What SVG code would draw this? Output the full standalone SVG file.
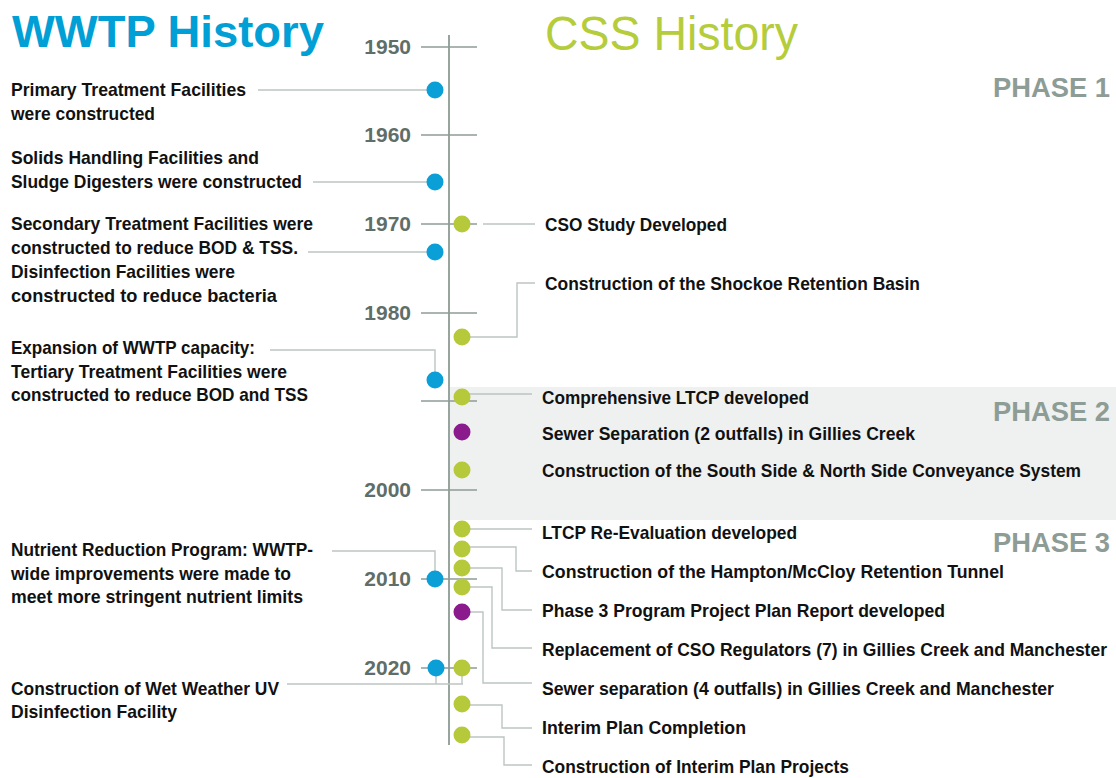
<svg xmlns="http://www.w3.org/2000/svg" width="1116" height="778" viewBox="0 0 1116 778">
  <style>
    .title { font-family: "Liberation Sans", Arial, sans-serif; }
    .year { font-family: "Liberation Sans", Arial, sans-serif; font-size: 21px; font-weight: bold; fill: #5f6e68; text-anchor: end; }
    .phase { font-family: "Liberation Sans", Arial, sans-serif; font-size: 28px; font-weight: bold; fill: #8e9c96; text-anchor: end; }
    .lbl { font-family: "Liberation Sans", Arial, sans-serif; font-size: 19px; font-weight: bold; fill: #111; }
    .tick { stroke: #8f9c96; stroke-width: 1.3; fill: none; }
    .con { stroke: #bcc5c1; stroke-width: 1.4; fill: none; }
    .blue { fill: #0a9fd6; }
    .green { fill: #b6c93a; }
    .purple { fill: #8b1a8c; }
  </style>

  <!-- phase 2 band -->
  <rect x="450" y="387" width="666" height="133" fill="#eff1f0"/>

  <!-- headings -->
  <text class="title" x="12" y="47" font-size="45" fill="#00a0d6" font-weight="bold" textLength="312" lengthAdjust="spacingAndGlyphs">WWTP History</text>
  <text class="title" x="545" y="50" font-size="49" fill="#b5cc3b" textLength="253" lengthAdjust="spacingAndGlyphs">CSS History</text>

  <text class="phase" x="1110" y="97" textLength="117" lengthAdjust="spacingAndGlyphs">PHASE 1</text>
  <text class="phase" x="1110" y="421" textLength="117" lengthAdjust="spacingAndGlyphs">PHASE 2</text>
  <text class="phase" x="1110" y="552" textLength="117" lengthAdjust="spacingAndGlyphs">PHASE 3</text>

  <!-- timeline axis and decade ticks -->
  <g id="axis">
    <line x1="449" y1="35" x2="449" y2="745" stroke="#97a59e" stroke-width="2"/>
    <path class="tick" d="M421,47H477 M421,135H477 M421,224H477 M421,313H477 M421,401H477 M421,490H477 M421,579H477 M421,668H477"/>
    <text class="year" x="411" y="54">1950</text>
    <text class="year" x="411" y="142">1960</text>
    <text class="year" x="411" y="231">1970</text>
    <text class="year" x="411" y="320">1980</text>
    <text class="year" x="411" y="497">2000</text>
    <text class="year" x="411" y="586">2010</text>
    <text class="year" x="411" y="675">2020</text>
  </g>

  <!-- leader lines -->
  <g id="connectors">
    <path class="con" d="M258,90H427"/>
    <path class="con" d="M313,182H427"/>
    <path class="con" d="M308,252H427"/>
    <path class="con" d="M270,350H435V372"/>
    <path class="con" d="M332,551H435V571"/>
    <path class="con" d="M287,684H463 M436,668V684 M462,668V684"/>
    <path class="con" d="M483,224H535"/>
    <path class="con" d="M462,337H517V283H535"/>
    <path class="con" d="M462,394H532"/>
    <path class="con" d="M462,529H532"/>
    <path class="con" d="M462,547H516V571H532"/>
    <path class="con" d="M462,568H502V610H532"/>
    <path class="con" d="M462,587H492V648H532"/>
    <path class="con" d="M462,612H483V683H532"/>
    <path class="con" d="M462,705H502V728H532"/>
    <path class="con" d="M462,737H504V765H532"/>
  </g>

  <!-- WWTP events -->
  <g id="w1950s"><circle class="blue" cx="435" cy="90" r="8.5"/>
    <text class="lbl" x="11" y="96" textLength="235" lengthAdjust="spacingAndGlyphs">Primary Treatment Facilities</text>
    <text class="lbl" x="11" y="120" textLength="144" lengthAdjust="spacingAndGlyphs">were constructed</text></g>
  <g id="w1960s"><circle class="blue" cx="435" cy="182" r="8.5"/>
    <text class="lbl" x="11" y="164" textLength="248" lengthAdjust="spacingAndGlyphs">Solids Handling Facilities and</text>
    <text class="lbl" x="11" y="188" textLength="291" lengthAdjust="spacingAndGlyphs">Sludge Digesters were constructed</text></g>
  <g id="w1970s"><circle class="blue" cx="435" cy="252" r="8.5"/>
    <text class="lbl" x="11" y="230" textLength="302" lengthAdjust="spacingAndGlyphs">Secondary Treatment Facilities were</text>
    <text class="lbl" x="11" y="254" textLength="287" lengthAdjust="spacingAndGlyphs">constructed to reduce BOD &amp; TSS.</text>
    <text class="lbl" x="11" y="278" textLength="224" lengthAdjust="spacingAndGlyphs">Disinfection Facilities were</text>
    <text class="lbl" x="11" y="302" textLength="266" lengthAdjust="spacingAndGlyphs">constructed to reduce bacteria</text></g>
  <g id="w1980s"><circle class="blue" cx="435" cy="380" r="8.5"/>
    <text class="lbl" x="11" y="354" textLength="244" lengthAdjust="spacingAndGlyphs">Expansion of WWTP capacity:</text>
    <text class="lbl" x="11" y="378" textLength="276" lengthAdjust="spacingAndGlyphs">Tertiary Treatment Facilities were</text>
    <text class="lbl" x="11" y="401" textLength="297" lengthAdjust="spacingAndGlyphs">constructed to reduce BOD and TSS</text></g>
  <g id="w2010s"><circle class="blue" cx="435" cy="579" r="8.5"/>
    <text class="lbl" x="11" y="556" textLength="302" lengthAdjust="spacingAndGlyphs">Nutrient Reduction Program: WWTP-</text>
    <text class="lbl" x="11" y="580" textLength="280" lengthAdjust="spacingAndGlyphs">wide improvements were made to</text>
    <text class="lbl" x="11" y="603" textLength="292" lengthAdjust="spacingAndGlyphs">meet more stringent nutrient limits</text></g>
  <g id="w2020s"><circle class="blue" cx="436" cy="668" r="8.5"/>
    <text class="lbl" x="11" y="695" textLength="268" lengthAdjust="spacingAndGlyphs">Construction of Wet Weather UV</text>
    <text class="lbl" x="11" y="718" textLength="166" lengthAdjust="spacingAndGlyphs">Disinfection Facility</text></g>

  <!-- CSS events -->
  <g id="c-cso-study"><circle class="green" cx="462" cy="224" r="8.5"/>
    <text class="lbl" x="545" y="231" textLength="182" lengthAdjust="spacingAndGlyphs">CSO Study Developed</text></g>
  <g id="c-shockoe"><circle class="green" cx="462" cy="337" r="8.5"/>
    <text class="lbl" x="545" y="290" textLength="375" lengthAdjust="spacingAndGlyphs">Construction of the Shockoe Retention Basin</text></g>
  <g id="c-ltcp"><circle class="green" cx="462" cy="397" r="8.5"/>
    <text class="lbl" x="542" y="404" textLength="267" lengthAdjust="spacingAndGlyphs">Comprehensive LTCP developed</text></g>
  <g id="c-sep2"><circle class="purple" cx="462" cy="432" r="8.5"/>
    <text class="lbl" x="542" y="440" textLength="373" lengthAdjust="spacingAndGlyphs">Sewer Separation (2 outfalls) in Gillies Creek</text></g>
  <g id="c-conveyance"><circle class="green" cx="462" cy="470" r="8.5"/>
    <text class="lbl" x="542" y="477" textLength="539" lengthAdjust="spacingAndGlyphs">Construction of the South Side &amp; North Side Conveyance System</text></g>
  <g id="c-reeval"><circle class="green" cx="462" cy="529" r="8.5"/>
    <text class="lbl" x="542" y="539" textLength="255" lengthAdjust="spacingAndGlyphs">LTCP Re-Evaluation developed</text></g>
  <g id="c-hampton"><circle class="green" cx="462" cy="549" r="8.5"/>
    <text class="lbl" x="542" y="578" textLength="462" lengthAdjust="spacingAndGlyphs">Construction of the Hampton/McCloy Retention Tunnel</text></g>
  <g id="c-ppp"><circle class="green" cx="462" cy="568" r="8.5"/>
    <text class="lbl" x="542" y="617" textLength="403" lengthAdjust="spacingAndGlyphs">Phase 3 Program Project Plan Report developed</text></g>
  <g id="c-regulators"><circle class="green" cx="462" cy="587" r="8.5"/>
    <text class="lbl" x="542" y="656" textLength="565" lengthAdjust="spacingAndGlyphs">Replacement of CSO Regulators (7) in Gillies Creek and Manchester</text></g>
  <g id="c-sep4"><circle class="purple" cx="462" cy="612" r="8.5"/>
    <text class="lbl" x="542" y="695" textLength="512" lengthAdjust="spacingAndGlyphs">Sewer separation (4 outfalls) in Gillies Creek and Manchester</text></g>
  <g id="c-2020"><circle class="green" cx="462" cy="668" r="8.5"/></g>
  <g id="c-interim"><circle class="green" cx="462" cy="704" r="8.5"/>
    <text class="lbl" x="542" y="734" textLength="204" lengthAdjust="spacingAndGlyphs">Interim Plan Completion</text></g>
  <g id="c-interim-projects"><circle class="green" cx="462" cy="735" r="8.5"/>
    <text class="lbl" x="542" y="773" textLength="307" lengthAdjust="spacingAndGlyphs">Construction of Interim Plan Projects</text></g>
</svg>
